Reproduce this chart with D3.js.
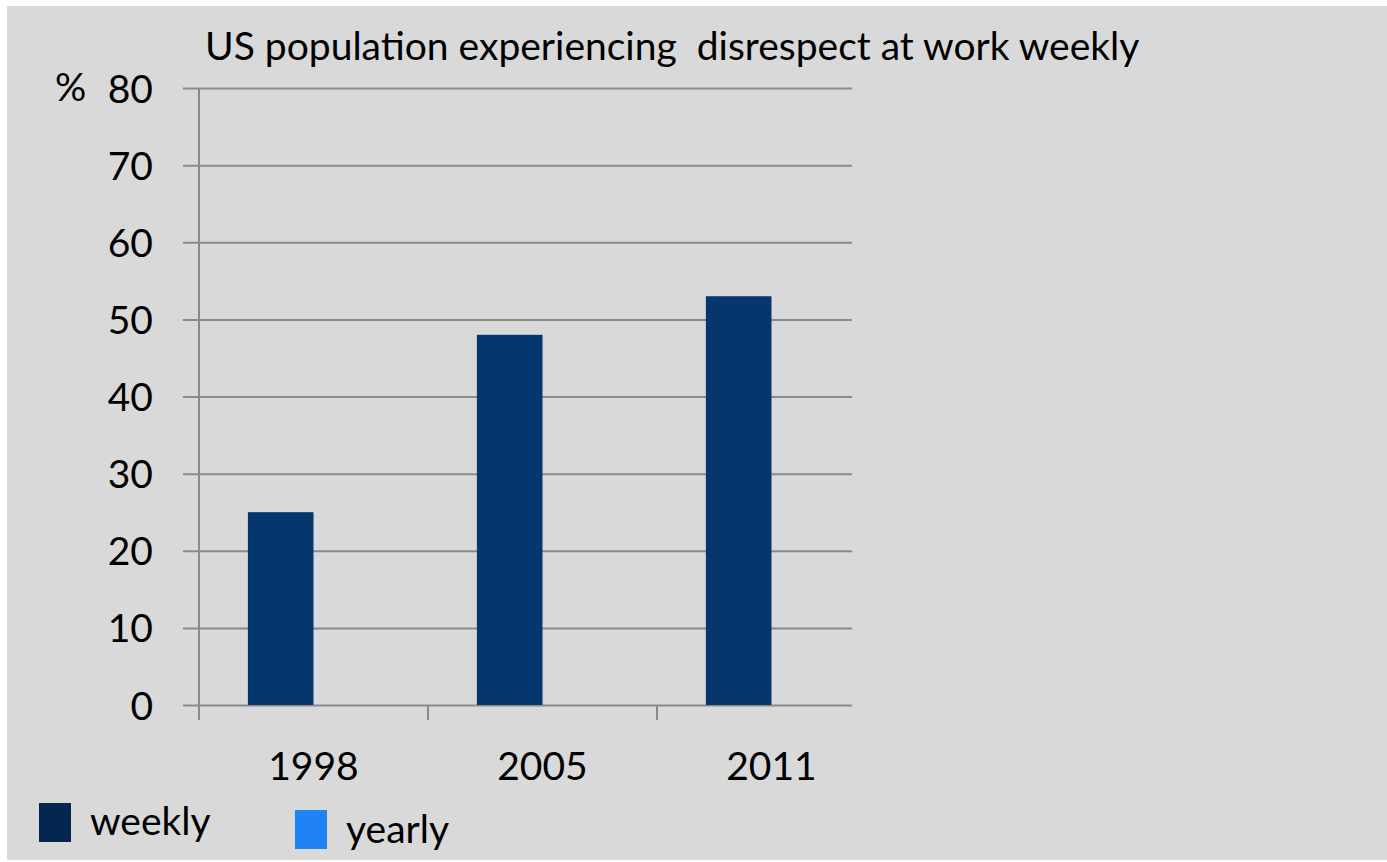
<!DOCTYPE html>
<html>
<head>
<meta charset="utf-8">
<script src="https://cdn.jsdelivr.net/npm/d3@7"></script>
<style>
  body { margin: 0; background: #fff; }
  svg text { font-family: Lato, "Open Sans", sans-serif; fill: #000; }
</style>
</head>
<body>
<div class="chart"></div>
<script>
const years = ['1998', '2005', '2011'];
const seriesNames = ['weekly', 'yearly'];
const weekly = [25, 48, 53];
const yearly = [null, null, null];
const yTicks = [0, 10, 20, 30, 40, 50, 60, 70, 80];
const seriesColors = ['#06366e', '#1f83f5'];
const legendColors = ['#04264f', '#1f83f5'];

const width = 1387, height = 862;

let svg = d3.select('.chart')
    .append('svg')
    .attr('width', width)
    .attr('height', height);

svg.append('rect')
    .attr('x', 7)
    .attr('y', 6)
    .attr('width', width - 7)
    .attr('height', height - 8)
    .attr('fill', '#d9d9d9');

const plot = {left: 199, top: 88, bottom: 705, step: 229, gridLeft: 183, gridRight: 852};

const yScale = d3.scaleLinear()
    .domain([0, 80])
    .range([plot.bottom, plot.top]);

const xScale = d3.scaleBand()
    .domain(years)
    .range([plot.left, plot.left + plot.step * years.length])
    .padding(0);

const x1 = d3.scaleBand()
    .domain(seriesNames)
    .range([0, xScale.bandwidth()])
    .paddingInner(0)
    .paddingOuter(0.745);

const cScale = d3.scaleOrdinal().domain(seriesNames).range(seriesColors);

// gridlines + y labels
const yAxis = d3.axisLeft(yScale)
    .tickValues(yTicks)
    .tickSize(-(plot.gridRight - plot.gridLeft))
    .tickPadding(30);

let yg = svg.append('g')
    .attr('transform', `translate(${plot.gridLeft},0)`)
    .call(yAxis);
yg.select('.domain').remove();
yg.selectAll('.tick line').attr('stroke', '#8a8a8a').attr('stroke-width', 2);
yg.selectAll('.tick text')
    .attr('font-size', 39)
    .attr('dy', '0.36em')
    .style('font-family', 'Lato, sans-serif');

svg.append('text')
    .text('%')
    .attr('x', 55)
    .attr('y', yScale(80) + 13)
    .attr('font-size', 39);

// vertical axis line
svg.append('line')
    .attr('x1', plot.left).attr('x2', plot.left)
    .attr('y1', yScale(80)).attr('y2', yScale(0) + 15)
    .attr('stroke', '#8a8a8a')
    .attr('stroke-width', 2);

// category ticks
svg.selectAll('.xtick')
    .data(years)
    .enter()
    .append('line')
    .attr('class', 'xtick')
    .attr('x1', d => xScale(d)).attr('x2', d => xScale(d))
    .attr('y1', yScale(0)).attr('y2', yScale(0) + 15)
    .attr('stroke', '#8a8a8a')
    .attr('stroke-width', 2);

svg.selectAll('.xlabel')
    .data(years)
    .enter()
    .append('text')
    .attr('class', 'xlabel')
    .text(d => d)
    .attr('x', d => xScale(d) + xScale.bandwidth() / 2)
    .attr('y', 780)
    .attr('text-anchor', 'middle')
    .attr('font-size', 39);

// bars
const rows = years.map((y, i) => ({year: y, values: [
    {key: 'weekly', value: weekly[i]},
    {key: 'yearly', value: yearly[i]}
]}));

svg.selectAll('.year')
    .data(rows)
    .enter()
    .append('g')
    .attr('class', 'year')
    .attr('transform', d => `translate(${xScale(d.year)},0)`)
    .selectAll('rect')
    .data(d => d.values.filter(v => v.value != null))
    .enter()
    .append('rect')
    .attr('x', d => x1(d.key))
    .attr('width', x1.bandwidth())
    .attr('y', d => yScale(d.value))
    .attr('height', d => yScale(0) - yScale(d.value))
    .attr('fill', d => cScale(d.key));

// title
svg.append('text')
    .text('US population experiencing\u00a0 disrespect at work weekly')
    .attr('x', 205)
    .attr('y', 60)
    .attr('font-size', 39);

// legend
const legendPos = [{x: 39, y: 803, tx: 90, ty: 835}, {x: 295, y: 810, tx: 346, ty: 843}];

svg.selectAll('.box')
    .data(seriesNames)
    .enter()
    .append('rect')
    .attr('class', 'box')
    .attr('x', (d, i) => legendPos[i].x)
    .attr('y', (d, i) => legendPos[i].y)
    .attr('width', 32)
    .attr('height', 39)
    .attr('fill', (d, i) => legendColors[i]);

svg.selectAll('.legend-label')
    .data(seriesNames)
    .enter()
    .append('text')
    .attr('class', 'legend-label')
    .text(d => d)
    .attr('x', (d, i) => legendPos[i].tx)
    .attr('y', (d, i) => legendPos[i].ty)
    .attr('font-size', 39);
</script>
</body>
</html>
